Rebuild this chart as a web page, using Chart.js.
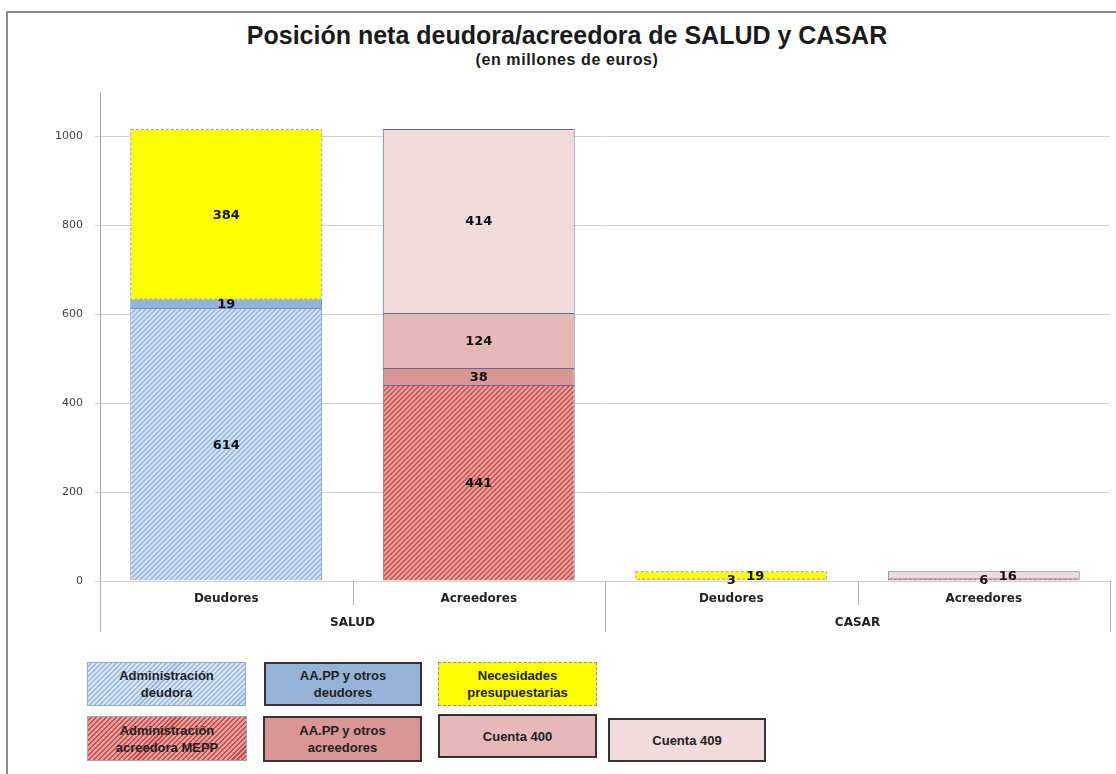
<!DOCTYPE html>
<html>
<head>
<meta charset="utf-8">
<script src="https://cdn.jsdelivr.net/npm/chart.js@4.4.0/dist/chart.umd.min.js"></script>
<style>
  html,body{margin:0;padding:0;background:#fff;width:1116px;height:774px;overflow:hidden;position:relative;}
  #frame{position:absolute;left:6px;top:11px;width:1200px;height:800px;border:2px solid #8c8c8c;box-sizing:border-box;}
  #chartBox{position:absolute;left:0;top:0;width:1116px;height:650px;}
  #title{position:absolute;left:0;top:20px;width:1134px;text-align:center;font-family:"Liberation Sans",sans-serif;font-weight:bold;color:#1a1a1a;}
  #title .t1{font-size:25px;line-height:30px;}
  #title .t2{font-size:16px;line-height:20px;letter-spacing:0.6px;}
  .lg{position:absolute;box-sizing:border-box;display:flex;align-items:center;justify-content:center;text-align:center;
      font-family:"Liberation Sans",sans-serif;font-weight:bold;font-size:13px;line-height:17px;color:#222;}
</style>
</head>
<body>
<div id="frame"></div>
<div id="title"><div class="t1">Posición neta deudora/acreedora de SALUD y CASAR</div><div class="t2">(en millones de euros)</div></div>
<div id="chartBox"><canvas id="chart"></canvas></div>
<div id="legend"></div>
<script>
// ----- Data -----
const categories = ['Deudores', 'Acreedores', 'Deudores', 'Acreedores'];
const groups = ['SALUD', 'CASAR'];
const seriesNames = ['Administración deudora', 'AA.PP y otros deudores', 'Necesidades presupuestarias',
  'Administración acreedora MEPP', 'AA.PP y otros acreedores', 'Cuenta 400', 'Cuenta 409'];
const adminDeudora = [614, null, 3, null];
const otrosDeudores = [19, null, null, null];
const necesidades = [384, null, 19, null];
const adminAcreedora = [null, 441, null, 6];
const otrosAcreedores = [null, 38, null, null];
const cuenta400 = [null, 124, null, null];
const cuenta409 = [null, 414, null, 16];
const yTicks = [0, 200, 400, 600, 800, 1000];
const yMax = 1100;

// ----- Styles -----
function hatch(bg, line){
  const c = document.createElement('canvas');
  c.width = 5; c.height = 5;
  const g = c.getContext('2d');
  g.fillStyle = bg; g.fillRect(0,0,5,5);
  g.strokeStyle = line; g.lineWidth = 1.4;
  g.beginPath();
  g.moveTo(-1,6); g.lineTo(6,-1);
  g.moveTo(-1,1); g.lineTo(1,-1);
  g.moveTo(4,6); g.lineTo(6,4);
  g.stroke();
  return g.createPattern(c,'repeat');
}
const ctx = document.getElementById('chart').getContext('2d');
const fills = [hatch('#d2e1f4','#94b5df'), '#95b3d7', '#ffff00', hatch('#ee9f9b','#c0504d'), '#da9694', '#e6b8b7', '#f2dcdb'];
const borders = ['#6f8fc4', '#4a6aa5', '#8e96b8', '#5a6fa0', '#5a6fa0', '#5a6fa0', '#5a6fa0'];
const legendCss = [
  'background:repeating-linear-gradient(135deg,#d6e4f5 0 2px,#9dbbe2 2px 3.5px);border:1px solid #8eaadb;',
  'background:#95b3d7;border:2px solid #333;',
  'background:#ffff00;border:1.5px dashed #8e8e8e;',
  'background:repeating-linear-gradient(135deg,#ee9f9b 0 2px,#c0504d 2px 3.5px);border:1px solid #8eaadb;',
  'background:#da9694;border:2px solid #333;',
  'background:#e6b8b7;border:2px solid #333;',
  'background:#f2dcdb;border:2px solid #333;'
];
const legendPos = [[87,662,159,44],[264,662,158,44],[438,662,159,44],[87,716,160,45],[263,716,159,46],[438,714,159,44],[608,718,158,44]];
const legendText = ['Administración<br>deudora','AA.PP y otros<br>deudores','Necesidades<br>presupuestarias',
  'Administración<br>acreedora MEPP','AA.PP y otros<br>acreedores','Cuenta 400','Cuenta 409'];

const legendEl = document.getElementById('legend');
seriesNames.forEach((n,i)=>{
  const d = document.createElement('div');
  d.className = 'lg';
  const p = legendPos[i];
  d.style.cssText = `left:${p[0]}px;top:${p[1]}px;width:${p[2]}px;height:${p[3]}px;` + legendCss[i];
  d.innerHTML = legendText[i];
  legendEl.appendChild(d);
});

const allData = [adminDeudora, otrosDeudores, necesidades, adminAcreedora, otrosAcreedores, cuenta400, cuenta409];
const datasets = seriesNames.map((n,i)=>({
  label: n,
  data: allData[i],
  backgroundColor: fills[i],
  borderColor: i === 2 ? 'rgba(0,0,0,0)' : borders[i],
  borderWidth: 1,
  stack: 's',
  barPercentage: 0.76,
  categoryPercentage: 1
}));

// value labels in the middle of each segment
const valueLabels = {
  id: 'valueLabels',
  afterDatasetsDraw(chart){
    const c = chart.ctx;
    // dashed border for yellow series
    const ym = chart.getDatasetMeta(2);
    c.save();
    c.setLineDash([3,2]);
    c.strokeStyle = borders[2];
    c.lineWidth = 1;
    ym.data.forEach((el,j)=>{
      if (allData[2][j] == null) return;
      const p = el.getProps(['x','y','base','width'], true);
      c.strokeRect(p.x - p.width/2 + 0.5, p.y + 0.5, p.width - 1, p.base - p.y - 1);
    });
    c.restore();

    c.save();
    c.font = 'bold 13px "DejaVu Sans", sans-serif';
    c.fillStyle = '#111';
    c.textAlign = 'center';
    c.textBaseline = 'middle';
    const last = {};
    chart.data.datasets.forEach((ds,i)=>{
      chart.getDatasetMeta(i).data.forEach((el,j)=>{
        const v = ds.data[j];
        if (v == null) return;
        const p = el.getProps(['x','y','base'], true);
        let x = p.x, y = (p.y + p.base)/2 + 1;
        if (last[j] && Math.abs(last[j].y - y) < 12) {
          x = last[j].x + 24;
          y = last[j].y - 4;
        }
        c.fillText(String(v), x, y);
        last[j] = {x, y};
      });
    });
    c.restore();
  }
};

// separators between categories and groups below the plot
const separators = {
  id: 'separators',
  afterDraw(chart){
    const xs = chart.scales.x, x2 = chart.scales.x2, a = chart.chartArea;
    const w = (a.right - a.left) / categories.length;
    const c = chart.ctx;
    c.save();
    c.strokeStyle = '#b5b5b5';
    c.lineWidth = 1;
    for (let i = 0; i <= categories.length; i++) {
      const px = Math.round(a.left + i*w) + 0.5;
      const bottom = (i % 2 === 0) ? x2.bottom : xs.bottom;
      c.beginPath(); c.moveTo(px, a.bottom); c.lineTo(px, bottom); c.stroke();
    }
    c.restore();
  }
};

new Chart(ctx, {
  type: 'bar',
  data: { labels: categories, datasets },
  options: {
    responsive: true,
    maintainAspectRatio: false,
    animation: false,
    layout: { padding: { top: 92, left: 0, right: 6, bottom: 18 } },
    plugins: { legend: { display: false }, tooltip: { enabled: false } },
    scales: {
      x: {
        stacked: true,
        grid: { display: false, drawTicks: false },
        border: { display: false },
        ticks: { padding: 11, color: '#222', font: { family: 'DejaVu Sans', weight: 'bold', size: 12 } },
        afterFit(s){ s.height = 24; }
      },
      x2: {
        type: 'category',
        labels: groups,
        position: 'bottom',
        grid: { display: false, drawTicks: false },
        border: { display: false },
        ticks: { padding: 11, color: '#222', font: { family: 'DejaVu Sans', weight: 'bold', size: 12 } },
        afterFit(s){ s.height = 27; }
      },
      y: {
        stacked: true,
        min: 0,
        max: yMax,
        afterBuildTicks(s){ s.ticks = yTicks.map(v=>({ value: v })); },
        grid: { color: '#d2d2d2', tickLength: 5 },
        border: { display: true, color: '#a6a6a6' },
        ticks: { padding: 12, color: '#404040', font: { family: 'DejaVu Sans', size: 11 }, callback: v => String(v) },
        afterFit(s){ s.width = 100; }
      }
    }
  },
  plugins: [valueLabels, separators]
});
</script>
</body>
</html>
